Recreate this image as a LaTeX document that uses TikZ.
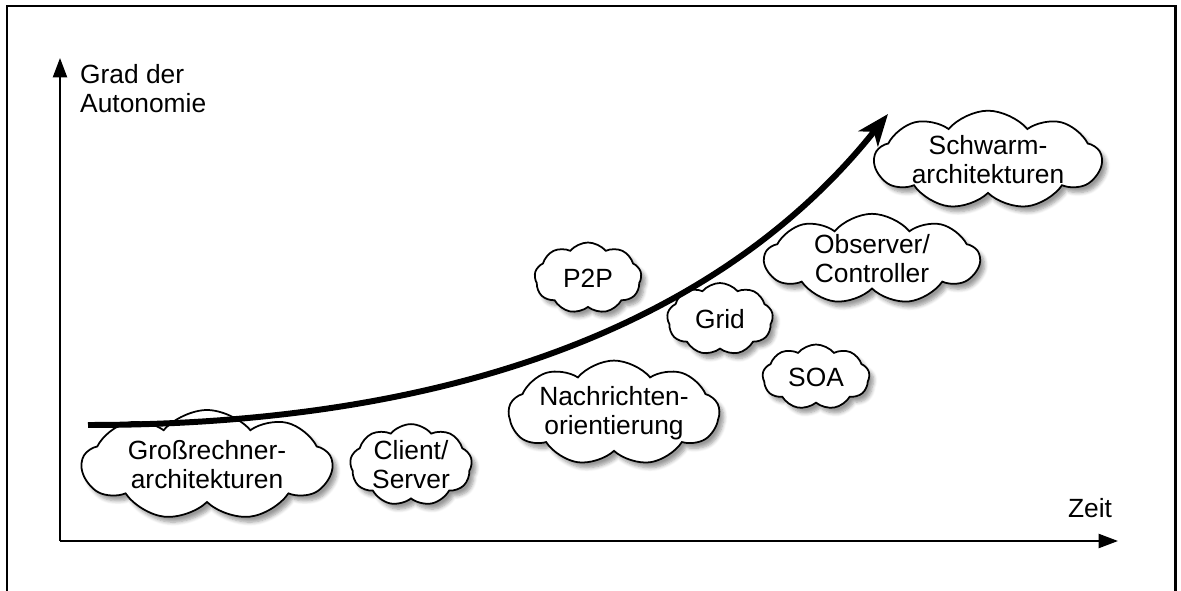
\documentclass[tikz,border=0pt]{standalone}
\usepackage{fontspec}
\setmainfont{Liberation Sans}
\usepackage{tikz}
\usetikzlibrary{shapes,shadows,shadows.blur,arrows,arrows.meta,calc}
\tikzstyle{tsText} = [ 
    text=black, 
    font=\fontsize{15}{16.5}\selectfont
]
\tikzstyle{tsWraptext} = [ 
    tsText, 
    align=center
]
\tikzstyle{tsCloud} = [ 
    cloud,
    cloud puffs=9,
    cloud puff arc=100,
    cloud ignores aspect,
    tsWraptext,
    inner sep=0pt,
    draw=black,
    fill=white,
    line width=1pt,
    blur shadow={shadow xshift=2.5pt, shadow yshift=-3pt, shadow blur steps=6}]
\tikzstyle{tsAxis} = [ 
    draw=black,
    line width=1.1pt,
    -{Triangle[length=11pt, width=8pt]}]

\begin{document}
\begin{tikzpicture}[x=0.02cm, y=-0.02cm]
        
        \useasboundingbox (0,0) rectangle (1181,591);
        \draw[line width=1.7pt] (7,591) -- (7,6) -- (1175,6) -- (1175,591);
        
        % axes
        \coordinate (origin) at (60,541);
        \coordinate (ytip) at (60,58);
        \coordinate (xtip) at (1118,541);
        \draw[tsAxis] (origin) -- (ytip);
        \draw[tsAxis] (origin) -- (xtip);
        \node[tsText, align=left, anchor=west] (grad) at (74,89) {Grad der\\Autonomie};
        \node[tsText] (zeit) at (1090,508) {Zeit};
        
        % clouds
        \node[tsCloud, minimum width=5.0cm, minimum height=2.2cm] (gross) at (207,465) {Großrechner-\\architekturen};
        \node[tsCloud, minimum width=2.44cm, minimum height=1.6cm] (client) at (411,465) {Client/\\Server};
        \node[tsCloud, minimum width=4.04cm, minimum height=1.86cm] (nachricht) at (614,413) {Nachrichten-\\orientierung};
        \node[tsCloud, minimum width=2.14cm, minimum height=1.42cm] (ptp) at (588,278) {P2P};
        \node[tsCloud, minimum width=2.12cm, minimum height=1.44cm] (grid) at (720,319) {Grid};
        \node[tsCloud, minimum width=2.14cm, minimum height=1.3cm] (soa) at (816,377) {SOA};
        \node[tsCloud, minimum width=4.3cm, minimum height=1.76cm] (observer) at (872,259) {Observer/\\Controller};
        \node[tsCloud, minimum width=4.54cm, minimum height=1.72cm] (schwarm) at (988,160) {Schwarm-\\architekturen};
        
        % trend
        \coordinate (start) at (88,425);
        \coordinate (end) at (888,114);
        \draw[line width=3.4pt, -{Stealth[length=18pt, width=14pt, inset=5pt]}] 
            (start) .. controls (450,425) and (720,325) .. (end);
   	 	
\end{tikzpicture}
\end{document}
